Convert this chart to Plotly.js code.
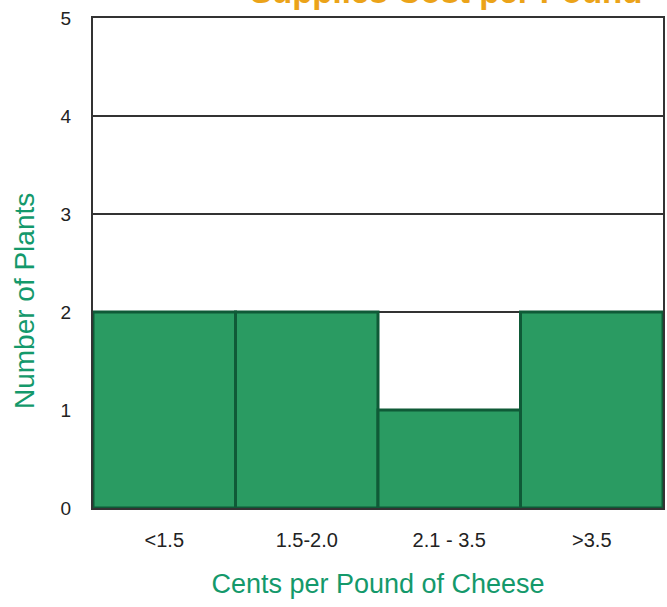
<!DOCTYPE html>
<html>
<head>
<meta charset="utf-8">
<script src="https://cdn.plot.ly/plotly-3.0.1.min.js"></script>
<style>
  html, body { margin: 0; padding: 0; background: #ffffff; }
  #chart { width: 667px; height: 607px; }
</style>
</head>
<body>
<div id="chart"></div>
<script>
// Data
const categories = ["<1.5", "1.5-2.0", "2.1 - 3.5", ">3.5"];
const plantCounts = [2, 2, 1, 2];
const yTickValues = [0, 1, 2, 3, 4, 5];

const chartTitle = "Supplies Cost per Pound";
const xTitle = "Cents per Pound of Cheese";
const yTitle = "Number of Plants";

const trace = {
  type: "bar",
  x: categories,
  y: plantCounts,
  marker: {
    color: "#2a9b62",
    line: { color: "#0f5a37", width: 3 }
  },
  hoverinfo: "x+y"
};

const layout = {
  width: 667,
  height: 607,
  margin: { l: 93, r: 4, t: 18, b: 99 },
  paper_bgcolor: "#ffffff",
  plot_bgcolor: "#ffffff",
  showlegend: false,
  bargap: 0,
  font: { family: "Arial, 'Liberation Sans', sans-serif", color: "#222222" },
  xaxis: {
    type: "category",
    showline: true,
    mirror: true,
    linecolor: "#333333",
    linewidth: 2,
    showgrid: false,
    ticks: "outside",
    ticklen: 13,
    tickcolor: "rgba(0,0,0,0)",
    tickfont: { size: 20, color: "#222222" },
    title: {
      text: xTitle,
      font: { size: 27, color: "#14996b" },
      standoff: 24
    },
    automargin: false
  },
  yaxis: {
    range: [0, 5],
    tickvals: yTickValues,
    showline: true,
    mirror: true,
    linecolor: "#333333",
    linewidth: 2,
    showgrid: true,
    gridcolor: "#333333",
    gridwidth: 1.5,
    zeroline: false,
    ticks: "outside",
    ticklen: 16,
    tickcolor: "rgba(0,0,0,0)",
    tickfont: { size: 19, color: "#222222" },
    automargin: false
  },
  annotations: [
    {
      text: "<b>" + chartTitle + "</b>",
      xref: "paper", yref: "paper",
      x: 0.62, y: 1,
      xanchor: "center", yanchor: "bottom",
      yshift: 6,
      showarrow: false,
      font: { size: 33, color: "#eba319" }
    },
    {
      text: yTitle,
      xref: "paper", yref: "paper",
      x: -0.121, y: 0.4224,
      xanchor: "center", yanchor: "middle",
      textangle: -90,
      showarrow: false,
      font: { size: 28, color: "#14996b" }
    }
  ]
};

Plotly.newPlot("chart", [trace], layout, { displayModeBar: false, staticPlot: true });
</script>
</body>
</html>
